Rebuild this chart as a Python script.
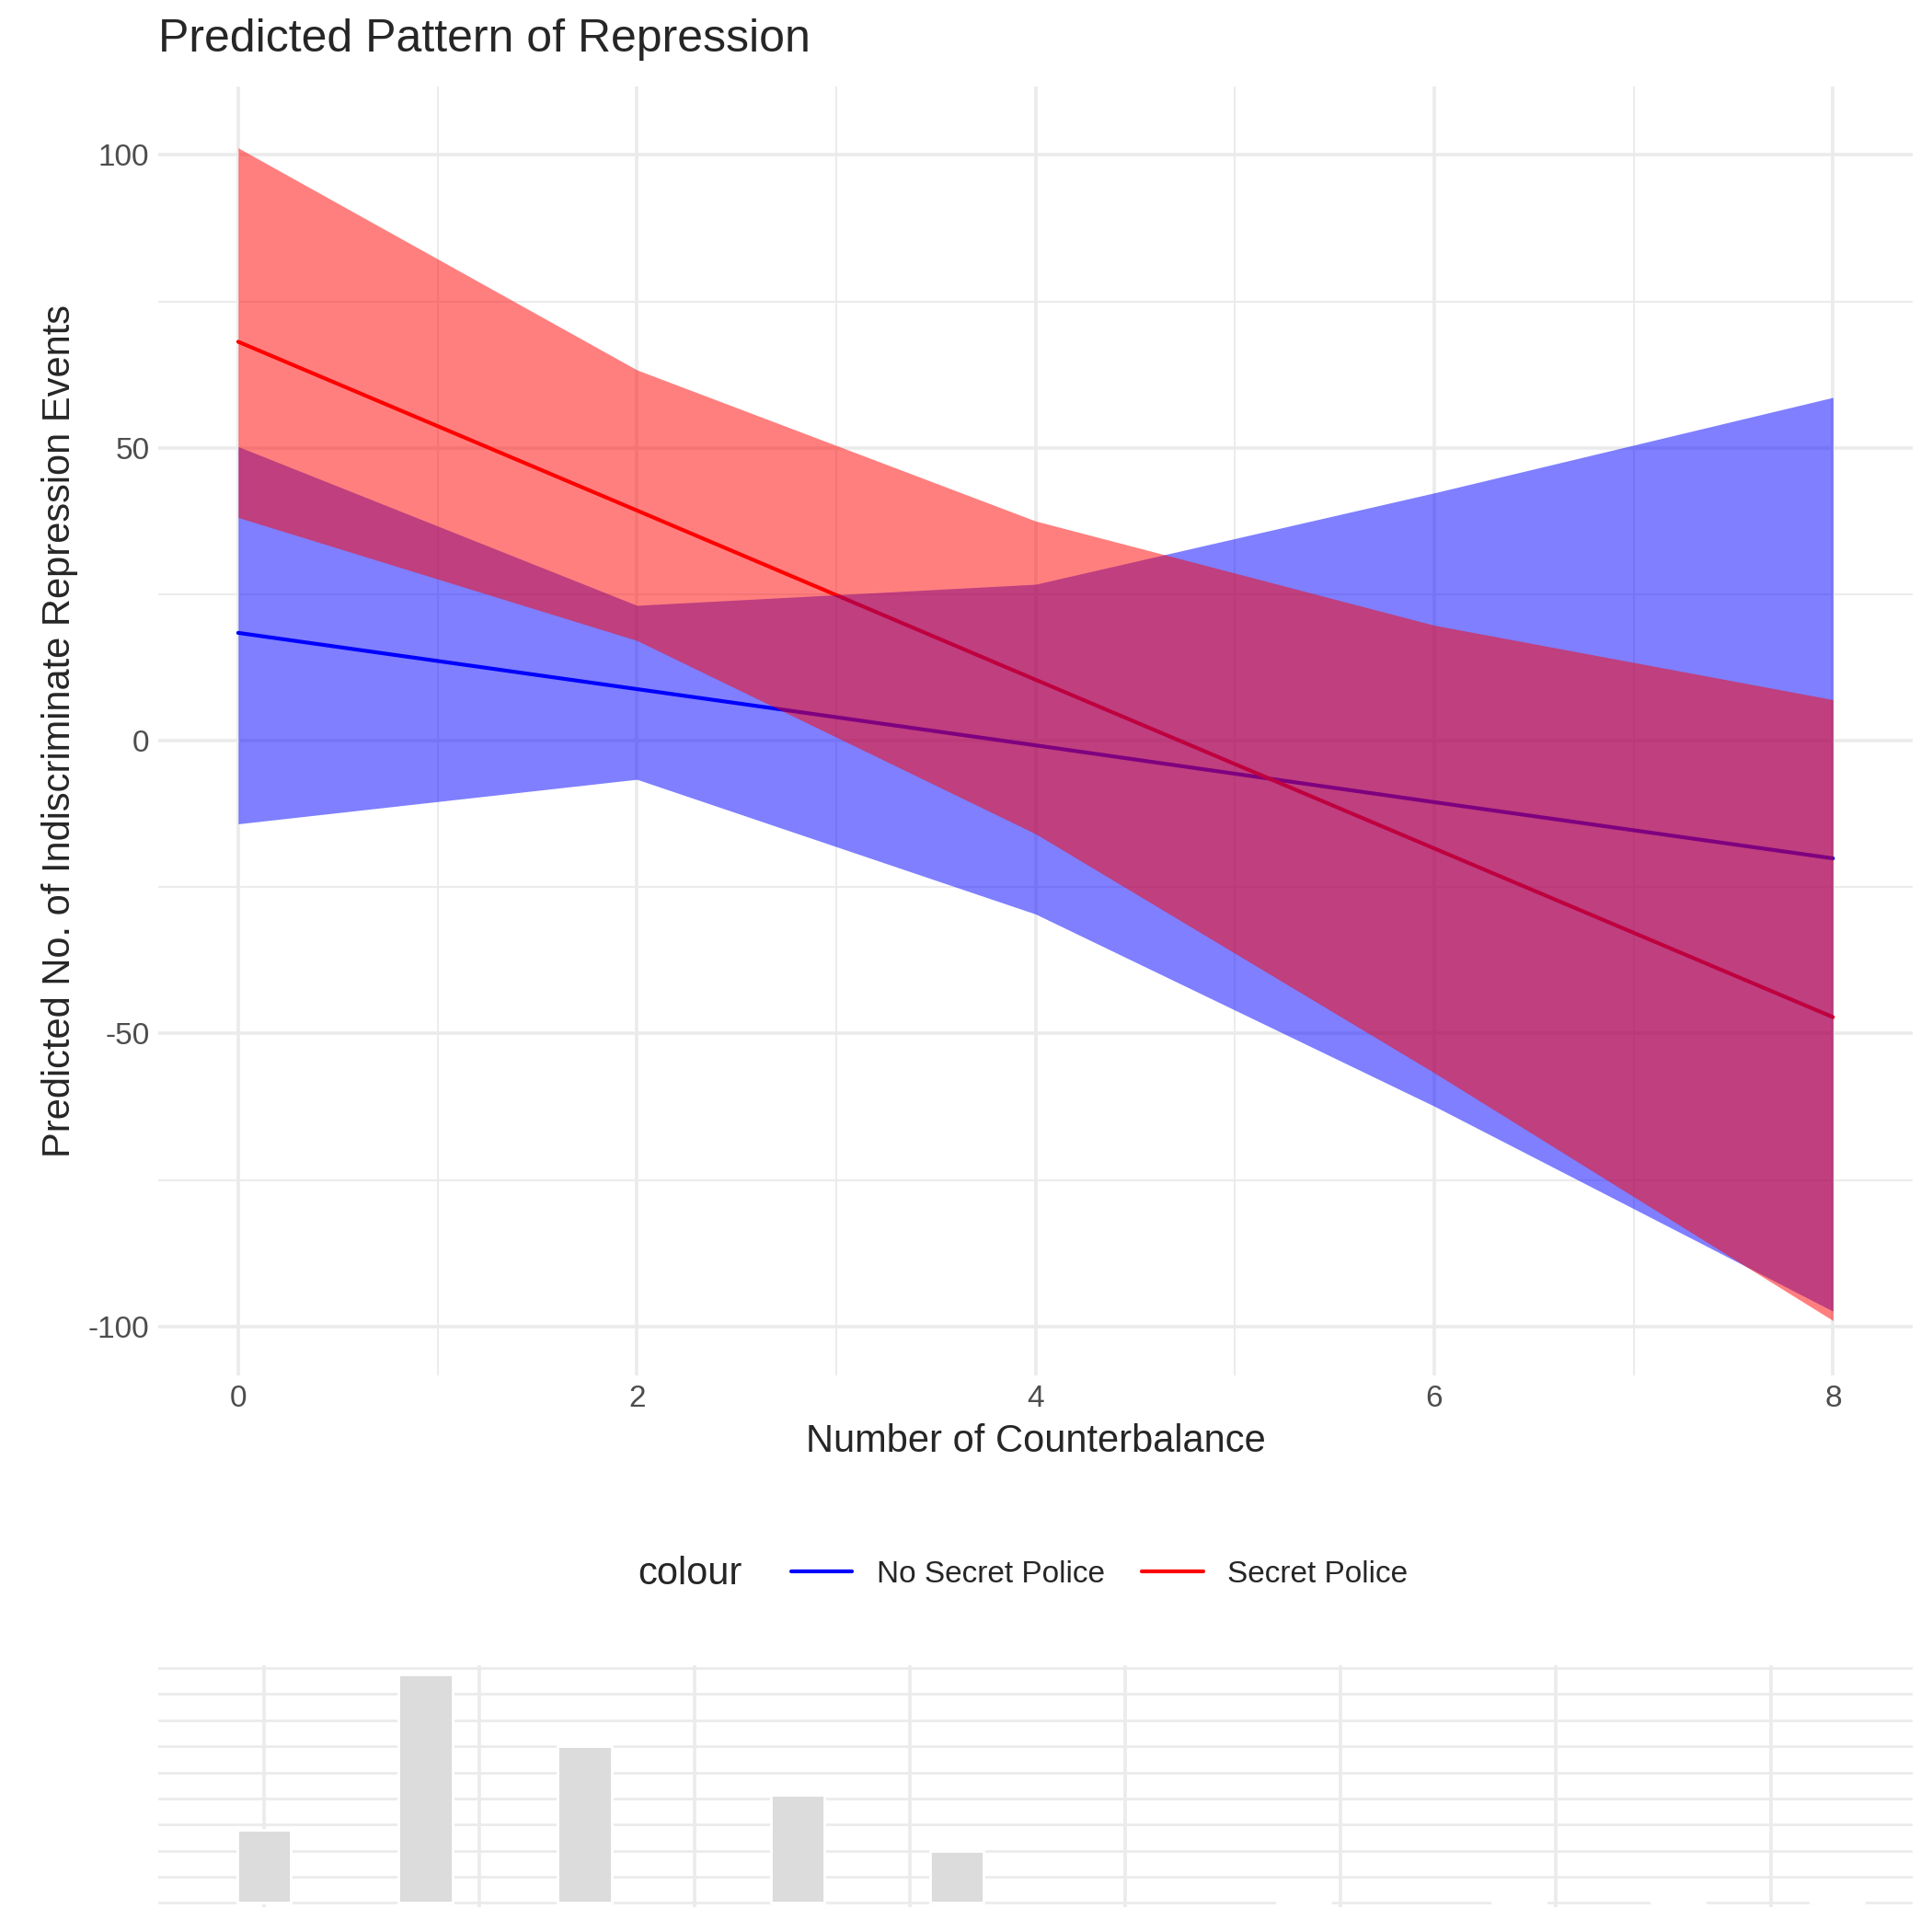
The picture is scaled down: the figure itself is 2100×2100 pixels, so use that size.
import numpy as np, pandas as pd, matplotlib
matplotlib.use("Agg")
import matplotlib.pyplot as plt, seaborn as sns
from matplotlib.lines import Line2D

x = [0, 2, 4, 6, 8]
nosp_fit = [18.4, 8.8, -0.8, -10.5, -20.1]
nosp_hi = [50.2, 23.1, 26.7, 42.3, 58.6]
nosp_lo = [-14.2, -6.6, -29.6, -62.4, -97.4]
sp_fit = [68.1, 39.3, 10.4, -18.4, -47.2]
sp_hi = [101.2, 63.3, 37.5, 19.7, 7.0]
sp_lo = [38.1, 17.1, -15.9, -56.7, -99.0]
hist_x = [0, 0.75, 1.49, 2.48, 3.22, 4.83, 5.83, 6.57, 7.31]
hist_h = [56, 175, 120, 83, 40, 1, 1.5, 0.8, 0.8]

sns.set_theme(style="white")
plt.rcParams['font.family'] = ['Liberation Sans', 'DejaVu Sans']
plt.rcParams['axes.unicode_minus'] = False
fig = plt.figure(figsize=(10.5, 10.5), dpi=200)
ax = fig.add_axes([0.082, 0.288, 0.908, 0.667])
grid = "#EBEBEB"
for v in np.arange(-100, 101, 50): ax.axhline(v, color=grid, lw=1.3, zorder=0)
for v in np.arange(-75, 100, 50): ax.axhline(v, color=grid, lw=0.7, zorder=0)
for v in range(0, 9, 2): ax.axvline(v, color=grid, lw=1.3, zorder=0)
for v in range(1, 9, 2): ax.axvline(v, color=grid, lw=0.7, zorder=0)
df = pd.DataFrame({"x": x * 2, "y": nosp_fit + sp_fit,
                   "colour": ["No Secret Police"] * 5 + ["Secret Police"] * 5})
sns.lineplot(data=df, x="x", y="y", hue="colour", palette={"No Secret Police": "blue", "Secret Police": "red"},
             ax=ax, legend=False, lw=1.5, zorder=1)
ax.fill_between(x, nosp_lo, nosp_hi, color="blue", alpha=0.5, lw=0, zorder=2)
ax.fill_between(x, sp_lo, sp_hi, color="red", alpha=0.5, lw=0, zorder=3)
ax.set_xlim(-0.4, 8.4); ax.set_ylim(-108.4, 111.6)
ax.set_xticks(range(0, 9, 2)); ax.set_yticks([-100, -50, 0, 50, 100])
ax.tick_params(labelsize=12, colors="#4D4D4D", length=0)
for s in ax.spines.values(): s.set_visible(False)
ax.set_xlabel("Number of Counterbalance", fontsize=15)
ax.set_ylabel("Predicted No. of Indiscriminate Repression Events", fontsize=15)
ax.set_title("Predicted Pattern of Repression", fontsize=18, loc="left", pad=14)
handles = [Line2D([], [], color="blue", lw=1.5), Line2D([], [], color="red", lw=1.5)]
fig.legend(handles, ["No Secret Police", "Secret Police"], loc="center left",
           bbox_to_anchor=(0.395, 0.185), ncol=2, frameon=False, fontsize=12,
           handlelength=2, columnspacing=1.2)
fig.text(0.33, 0.185, "colour", fontsize=15, va="center", ha="left")
hax = fig.add_axes([0.082, 0.013, 0.908, 0.125])
for v in np.linspace(0, 180, 10): hax.axhline(v, color=grid, lw=1.0, zorder=0)
for v in range(0, 8): hax.axvline(v, color=grid, lw=1.3, zorder=0)
hax.bar(hist_x, hist_h, width=0.25, color="#DCDCDC", zorder=2)
hax.set_xlim(-0.49, 7.66); hax.set_ylim(-3, 182)
hax.set_xticks([]); hax.set_yticks([])
for s in hax.spines.values(): s.set_visible(False)
fig.savefig("out.png", dpi=200)
